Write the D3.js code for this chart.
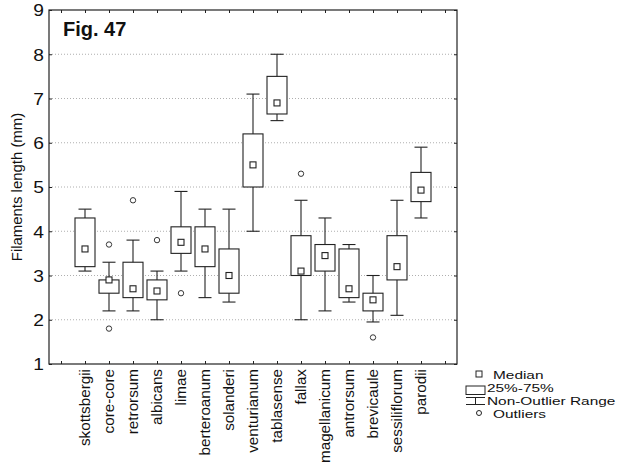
<!DOCTYPE html>
<html>
<head>
<meta charset="utf-8">
<script src="https://cdn.jsdelivr.net/npm/d3@7"></script>
<style>
  body { margin: 0; background: #fff; }
  svg text { font-family: Arial, "Liberation Sans", Helvetica, sans-serif; fill: #111; }
</style>
</head>
<body>
<div id="chart"></div>
<script>
'use strict';

// species on the x axis
var species = ['skottsbergii', 'core-core', 'retrorsum', 'albicans', 'limae',
    'berteroanum', 'solanderi', 'venturianum', 'tablasense', 'fallax',
    'magellanicum', 'antrorsum', 'brevicaule', 'sessiliflorum', 'parodii'];

// non-outlier range and quartiles (mm)
var lowVals    = [3.1, 2.2, 2.2, 2.0, 3.1, 2.5, 2.4, 4.0, 6.5, 2.0, 2.2, 2.4, 1.95, 2.1, 4.3];
var q1Vals     = [3.2, 2.6, 2.5, 2.45, 3.5, 3.2, 2.6, 5.0, 6.65, 3.0, 3.1, 2.5, 2.2, 2.9, 4.67];
var medianVals = [3.6, 2.9, 2.7, 2.65, 3.75, 3.6, 3.0, 5.5, 6.9, 3.1, 3.45, 2.7, 2.45, 3.2, 4.93];
var q3Vals     = [4.3, 2.9, 3.3, 2.9, 4.1, 4.1, 3.6, 6.2, 7.5, 3.9, 3.7, 3.6, 2.6, 3.9, 5.33];
var highVals   = [4.5, 3.3, 3.8, 3.1, 4.9, 4.5, 4.5, 7.1, 8.0, 4.7, 4.3, 3.7, 3.0, 4.7, 5.9];

// outliers: [species index, value]
var outliers = [[1, 3.7], [1, 1.8], [2, 4.7], [3, 3.8], [4, 2.6], [9, 5.3], [12, 1.6]];

var yTicks = [1, 2, 3, 4, 5, 6, 7, 8, 9];
var legendLabels = ['Median', '25%-75%', 'Non-Outlier Range', 'Outliers'];

var stage = { width: 637, height: 466, left: 49, right: 457, top: 10, bottom: 364 };
var ink = '#222';

var svg = d3.select('#chart')
    .append('svg')
    .attr('width', stage.width)
    .attr('height', stage.height);

var x = d3.scaleLinear()
    .domain([-1.5, species.length + 0.5])
    .range([stage.left, stage.right]);

var y = d3.scaleLinear()
    .domain([1, 9])
    .range([stage.bottom, stage.top]);

// GRID
svg.append('g')
    .attr('class', 'grid')
    .selectAll('line')
    .data(yTicks.slice(1, -1)).enter()
    .append('line')
    .attr('x1', stage.left)
    .attr('x2', stage.right)
    .attr('y1', function(d) { return y(d); })
    .attr('y2', function(d) { return y(d); })
    .attr('stroke', '#9a9a9a')
    .attr('stroke-width', 0.8)
    .attr('stroke-dasharray', '1,2');

// AXES (ticks point inward)
var xTickVals = d3.range(-1, species.length + 1);

svg.append('g')
    .attr('transform', 'translate(0,' + stage.bottom + ')')
    .call(d3.axisBottom(x).tickValues(xTickVals).tickSize(-3).tickFormat(''))
    .call(function(g) { g.select('.domain').remove(); })
    .selectAll('line').attr('stroke', ink);

svg.append('g')
    .attr('transform', 'translate(0,' + stage.top + ')')
    .call(d3.axisTop(x).tickValues(xTickVals).tickSize(-3).tickFormat(''))
    .call(function(g) { g.select('.domain').remove(); })
    .selectAll('line').attr('stroke', ink);

svg.append('g')
    .attr('transform', 'translate(' + stage.right + ',0)')
    .call(d3.axisRight(y).tickValues(yTicks).tickSize(-3).tickFormat(''))
    .call(function(g) { g.select('.domain').remove(); })
    .selectAll('line').attr('stroke', ink);

var yAxis = svg.append('g')
    .attr('transform', 'translate(' + stage.left + ',0)')
    .call(d3.axisLeft(y).tickValues(yTicks).tickSize(-3).tickFormat(d3.format('d')));
yAxis.select('.domain').remove();
yAxis.selectAll('line').attr('stroke', ink);
yAxis.selectAll('text')
    .attr('x', 0)
    .attr('dy', '0.36em')
    .attr('transform', 'translate(-5,0) scale(1.2,1)')
    .style('font-size', '16px')
    .style('fill', '#111');

// FRAME
svg.append('rect')
    .attr('x', stage.left)
    .attr('y', stage.top)
    .attr('width', stage.right - stage.left)
    .attr('height', stage.bottom - stage.top)
    .attr('fill', 'none')
    .attr('stroke', ink)
    .attr('stroke-width', 1.2);

// BOXES
var boxData = species.map(function(name, i) {
    return { name: name, i: i, low: lowVals[i], q1: q1Vals[i],
        median: medianVals[i], q3: q3Vals[i], high: highVals[i] };
});

var boxHalf = 10, capHalf = 6.5, medHalf = 3;

var boxes = svg.append('g')
    .attr('class', 'boxes')
    .selectAll('g').data(boxData).enter()
    .append('g')
    .attr('stroke', ink)
    .attr('stroke-width', 1.1);

// whiskers
boxes.append('line')
    .attr('x1', function(d) { return x(d.i); })
    .attr('x2', function(d) { return x(d.i); })
    .attr('y1', function(d) { return y(d.high); })
    .attr('y2', function(d) { return y(d.low); });
boxes.append('line')
    .attr('x1', function(d) { return x(d.i) - capHalf; })
    .attr('x2', function(d) { return x(d.i) + capHalf; })
    .attr('y1', function(d) { return y(d.high); })
    .attr('y2', function(d) { return y(d.high); });
boxes.append('line')
    .attr('x1', function(d) { return x(d.i) - capHalf; })
    .attr('x2', function(d) { return x(d.i) + capHalf; })
    .attr('y1', function(d) { return y(d.low); })
    .attr('y2', function(d) { return y(d.low); });

// 25%-75%
boxes.append('rect')
    .attr('x', function(d) { return x(d.i) - boxHalf; })
    .attr('y', function(d) { return y(d.q3); })
    .attr('width', boxHalf * 2)
    .attr('height', function(d) { return y(d.q1) - y(d.q3); })
    .attr('fill', '#fff');

// median
boxes.append('rect')
    .attr('x', function(d) { return x(d.i) - medHalf; })
    .attr('y', function(d) { return y(d.median) - medHalf; })
    .attr('width', medHalf * 2)
    .attr('height', medHalf * 2)
    .attr('fill', '#fff');

// OUTLIERS
svg.append('g')
    .attr('class', 'outliers')
    .selectAll('circle').data(outliers).enter()
    .append('circle')
    .attr('cx', function(d) { return x(d[0]); })
    .attr('cy', function(d) { return y(d[1]); })
    .attr('r', 2.7)
    .attr('fill', '#fff')
    .attr('stroke', ink)
    .attr('stroke-width', 0.9);

// X LABELS (rotated)
svg.append('g')
    .attr('class', 'x-labels')
    .selectAll('text').data(species).enter()
    .append('text')
    .attr('transform', function(d, i) {
        return 'translate(' + (x(i) + 5) + ',' + (stage.bottom + 5) + ') rotate(-90) scale(1.09,1)';
    })
    .attr('text-anchor', 'end')
    .style('font-size', '14px')
    .text(function(d) { return d; });

// Y TITLE
svg.append('text')
    .attr('transform', 'translate(22,' + ((stage.top + stage.bottom) / 2) + ') rotate(-90) scale(1.03,1)')
    .attr('text-anchor', 'middle')
    .style('font-size', '14.5px')
    .text('Filaments length (mm)');

// FIG LABEL
svg.append('text')
    .attr('transform', 'translate(63,36)')
    .style('font-size', '20px')
    .style('font-weight', 'bold')
    .text('Fig. 47');

// LEGEND
var legend = svg.append('g')
    .attr('class', 'legend')
    .attr('stroke', ink)
    .attr('stroke-width', 1);

legend.append('rect')
    .attr('x', 476).attr('y', 371).attr('width', 6).attr('height', 6)
    .attr('fill', '#fff');
legend.append('rect')
    .attr('x', 466).attr('y', 386).attr('width', 19).attr('height', 8.5)
    .attr('fill', '#fff');
legend.append('path')
    .attr('d', 'M466,397.5H485M475.5,397.5V404.5M466,404.5H485')
    .attr('fill', 'none');
legend.append('circle')
    .attr('cx', 479).attr('cy', 413).attr('r', 2.5)
    .attr('fill', '#fff');

var legendPos = [[493, 378.5], [487, 391.5], [487, 404.5], [493, 417.5]];
svg.append('g')
    .selectAll('text').data(legendLabels).enter()
    .append('text')
    .attr('transform', function(d, i) {
        return 'translate(' + legendPos[i][0] + ',' + legendPos[i][1] + ') scale(1.34,1)';
    })
    .style('font-size', '11.5px')
    .text(function(d) { return d; });
</script>
</body>
</html>
